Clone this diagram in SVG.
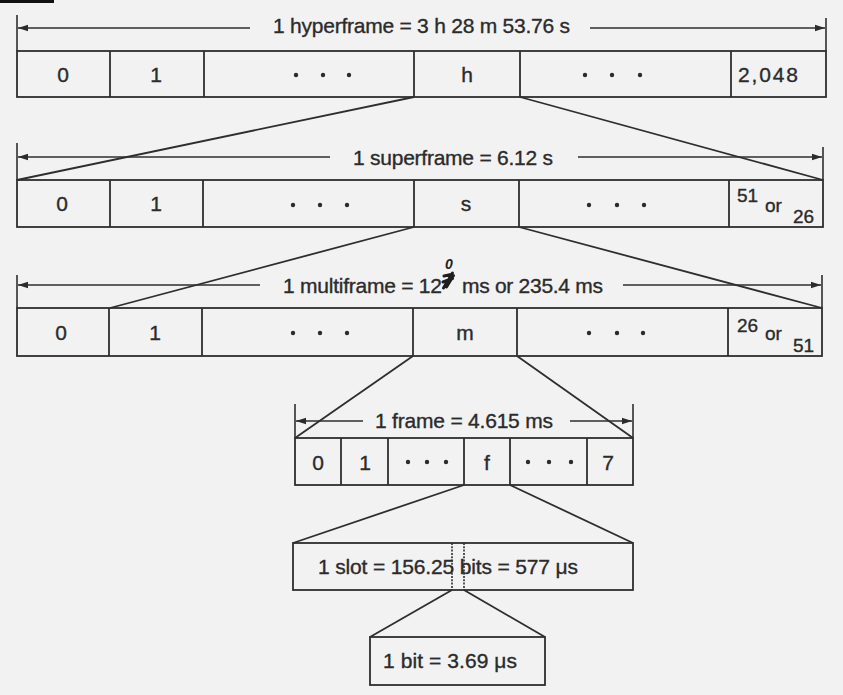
<svg xmlns="http://www.w3.org/2000/svg" width="843" height="695" viewBox="0 0 843 695">
  <defs>
    <marker id="arrow" markerUnits="userSpaceOnUse" markerWidth="10" markerHeight="8" refX="10" refY="4" orient="auto">
      <path d="M0,0.8 L10,4 L0,7.2 z" fill="#2b2b2b"/>
    </marker>
    <style>
      .box { fill: none; stroke: #2e2e2e; stroke-width: 1.8; }
      .div { stroke: #2e2e2e; stroke-width: 1.8; }
      .tick { stroke: #2e2e2e; stroke-width: 1.6; }
      .dim { stroke: #2e2e2e; stroke-width: 1.5; marker-end: url(#arrow); }
      .con line { stroke: #2e2e2e; stroke-width: 1.8; }
      .dotted { stroke: #2e2e2e; stroke-width: 1.6; stroke-dasharray: 2 1.3; }
      text { font-family: "Liberation Sans", Arial, sans-serif; font-size: 21px; fill: #2b2b2b; stroke: #2b2b2b; stroke-width: 0.35; }
      .c { text-anchor: middle; }
      .sm { font-size: 19px; }
      .dot { fill: #2b2b2b; }
    </style>
  </defs>

  <!-- paper -->
  <rect x="0" y="0" width="843" height="695" fill="#f2f2f2"/>
  <rect x="0" y="0" width="54" height="3" fill="#111"/>

  <!-- hyperframe -->
  <g id="hyperframe">
    <line class="tick" x1="17" y1="15" x2="17" y2="51"/>
    <line class="tick" x1="826" y1="18" x2="826" y2="51"/>
    <line class="dim" x1="250" y1="28" x2="18" y2="28"/>
    <line class="dim" x1="590" y1="28" x2="825" y2="28"/>
    <text x="273" y="33" textLength="297" lengthAdjust="spacing">1 hyperframe = 3 h 28 m 53.76 s</text>
    <rect class="box" x="17" y="51" width="809" height="46"/>
    <line class="div" x1="110" y1="51" x2="110" y2="97"/>
    <line class="div" x1="204" y1="51" x2="204" y2="97"/>
    <line class="div" x1="414" y1="51" x2="414" y2="97"/>
    <line class="div" x1="520" y1="51" x2="520" y2="97"/>
    <line class="div" x1="731" y1="51" x2="731" y2="97"/>
    <text class="c" x="63" y="82">0</text>
    <text class="c" x="156" y="82">1</text>
    <circle class="dot" cx="296" cy="75" r="2.2"/>
    <circle class="dot" cx="323" cy="75" r="2.2"/>
    <circle class="dot" cx="349" cy="75" r="2.2"/>
    <text class="c" x="467" y="82">h</text>
    <circle class="dot" cx="585" cy="75" r="2.2"/>
    <circle class="dot" cx="612" cy="75" r="2.2"/>
    <circle class="dot" cx="640" cy="75" r="2.2"/>
    <text class="c" x="768" y="82" textLength="60" lengthAdjust="spacing">2,048</text>
  </g>

  <!-- superframe -->
  <g id="superframe">
    <line class="tick" x1="17" y1="143" x2="17" y2="180"/>
    <line class="tick" x1="823" y1="147" x2="823" y2="180"/>
    <line class="dim" x1="330" y1="157" x2="18" y2="157"/>
    <line class="dim" x1="578" y1="157" x2="822" y2="157"/>
    <text x="353" y="165" textLength="200" lengthAdjust="spacing">1 superframe = 6.12 s</text>
    <rect class="box" x="17" y="180" width="806" height="47"/>
    <line class="div" x1="110" y1="180" x2="110" y2="227"/>
    <line class="div" x1="203" y1="180" x2="203" y2="227"/>
    <line class="div" x1="414" y1="180" x2="414" y2="227"/>
    <line class="div" x1="519" y1="180" x2="519" y2="227"/>
    <line class="div" x1="729" y1="180" x2="729" y2="227"/>
    <text class="c" x="62" y="211">0</text>
    <text class="c" x="156" y="211">1</text>
    <circle class="dot" cx="293" cy="205" r="2.2"/>
    <circle class="dot" cx="320" cy="205" r="2.2"/>
    <circle class="dot" cx="347" cy="205" r="2.2"/>
    <text class="c" x="466" y="211">s</text>
    <circle class="dot" cx="589" cy="205" r="2.2"/>
    <circle class="dot" cx="617" cy="205" r="2.2"/>
    <circle class="dot" cx="644" cy="205" r="2.2"/>
    <text class="sm" x="737" y="202">51</text>
    <text class="sm" x="765" y="212">or</text>
    <text class="sm" x="793" y="223">26</text>
  </g>

  <!-- multiframe -->
  <g id="multiframe">
    <line class="tick" x1="17" y1="275" x2="17" y2="308"/>
    <line class="tick" x1="822" y1="275" x2="822" y2="308"/>
    <line class="dim" x1="260" y1="285" x2="18" y2="285"/>
    <line class="dim" x1="623" y1="285" x2="821" y2="285"/>
    <text x="283" y="293" textLength="159" lengthAdjust="spacing">1 multiframe = 12</text>
    <!-- struck-out digit with a pen correction above -->
    <path d="M443.5,288 L452.5,273 M446.5,287 L453.5,275.5 M443,282 L452.5,278.5 M444,276 L451,274.5" stroke="#1e1e1e" stroke-width="3" stroke-linecap="round" fill="none"/>
    <text x="445" y="269" style="font-size:14px;font-style:italic;font-weight:bold;fill:#222;stroke:none">0</text>
    <text x="462" y="293" textLength="141" lengthAdjust="spacing">ms or 235.4 ms</text>
    <rect class="box" x="17" y="308" width="805" height="48"/>
    <line class="div" x1="109" y1="308" x2="109" y2="356"/>
    <line class="div" x1="202" y1="308" x2="202" y2="356"/>
    <line class="div" x1="413" y1="308" x2="413" y2="356"/>
    <line class="div" x1="517" y1="308" x2="517" y2="356"/>
    <line class="div" x1="728" y1="308" x2="728" y2="356"/>
    <text class="c" x="61" y="340">0</text>
    <text class="c" x="155" y="340">1</text>
    <circle class="dot" cx="293" cy="333" r="2.2"/>
    <circle class="dot" cx="320" cy="333" r="2.2"/>
    <circle class="dot" cx="347" cy="333" r="2.2"/>
    <text class="c" x="465" y="340">m</text>
    <circle class="dot" cx="589" cy="333" r="2.2"/>
    <circle class="dot" cx="617" cy="333" r="2.2"/>
    <circle class="dot" cx="643" cy="333" r="2.2"/>
    <text class="sm" x="737" y="332">26</text>
    <text class="sm" x="765" y="340">or</text>
    <text class="sm" x="793" y="352">51</text>
  </g>

  <!-- frame -->
  <g id="frame">
    <line class="tick" x1="295" y1="404" x2="295" y2="438"/>
    <line class="tick" x1="633" y1="404" x2="633" y2="438"/>
    <line class="dim" x1="363" y1="421" x2="296" y2="421"/>
    <line class="dim" x1="570" y1="421" x2="632" y2="421"/>
    <text x="375" y="428" textLength="178" lengthAdjust="spacing">1 frame = 4.615 ms</text>
    <rect class="box" x="295" y="438" width="338" height="47"/>
    <line class="div" x1="341" y1="438" x2="341" y2="485"/>
    <line class="div" x1="388" y1="438" x2="388" y2="485"/>
    <line class="div" x1="464" y1="438" x2="464" y2="485"/>
    <line class="div" x1="510" y1="438" x2="510" y2="485"/>
    <line class="div" x1="587" y1="438" x2="587" y2="485"/>
    <text class="c" x="318" y="470">0</text>
    <text class="c" x="365" y="470">1</text>
    <circle class="dot" cx="408" cy="462" r="2.2"/>
    <circle class="dot" cx="427" cy="462" r="2.2"/>
    <circle class="dot" cx="446" cy="462" r="2.2"/>
    <text class="c" x="487" y="470">f</text>
    <circle class="dot" cx="528" cy="462" r="2.2"/>
    <circle class="dot" cx="549" cy="462" r="2.2"/>
    <circle class="dot" cx="571" cy="462" r="2.2"/>
    <text class="c" x="608" y="470">7</text>
  </g>

  <!-- slot -->
  <g id="slot">
    <rect class="box" x="293" y="543" width="340" height="47"/>
    <line class="dotted" x1="452" y1="543" x2="452" y2="590"/>
    <line class="dotted" x1="464" y1="543" x2="464" y2="590"/>
    <text x="318" y="574" textLength="260" lengthAdjust="spacing">1 slot = 156.25 bits = 577 μs</text>
  </g>

  <!-- bit -->
  <g id="bit">
    <rect class="box" x="370" y="637" width="175" height="48"/>
    <text x="383" y="668" textLength="134" lengthAdjust="spacing">1 bit = 3.69 μs</text>
  </g>

  <!-- expansion lines between levels -->
  <g id="connectors" class="con">
    <line x1="414" y1="97" x2="17" y2="180"/>
    <line x1="520" y1="97" x2="823" y2="180"/>
    <line x1="414" y1="227" x2="110" y2="308"/>
    <line x1="519" y1="227" x2="822" y2="308"/>
    <line x1="413" y1="356" x2="295" y2="438"/>
    <line x1="517" y1="356" x2="633" y2="438"/>
    <line x1="464" y1="485" x2="293" y2="543"/>
    <line x1="510" y1="485" x2="633" y2="543"/>
    <line x1="452" y1="590" x2="370" y2="637"/>
    <line x1="464" y1="590" x2="545" y2="637"/>
  </g>
</svg>
